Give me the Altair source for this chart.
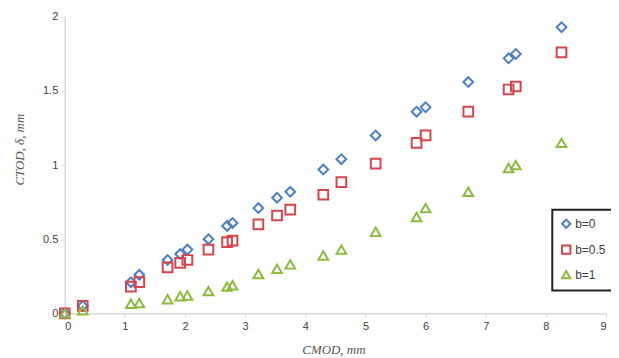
import altair as alt
import pandas as pd

cmod = [0.0, 0.3, 1.1, 1.24, 1.71, 1.92, 2.04, 2.39, 2.7, 2.79, 3.22, 3.53, 3.75,
        4.3, 4.6, 5.17, 5.85, 6.0, 6.71, 7.38, 7.5, 8.26]
ctod_b0 = [0.0, 0.05, 0.21, 0.26, 0.36, 0.40, 0.43, 0.50, 0.59, 0.61, 0.71, 0.78, 0.82,
           0.97, 1.04, 1.20, 1.36, 1.39, 1.56, 1.72, 1.75, 1.93]
ctod_b05 = [0.0, 0.05, 0.18, 0.21, 0.31, 0.34, 0.36, 0.43, 0.48, 0.49, 0.60, 0.66, 0.70,
            0.80, 0.885, 1.01, 1.15, 1.20, 1.36, 1.51, 1.53, 1.76]
ctod_b1 = [0.0, 0.02, 0.065, 0.07, 0.095, 0.115, 0.12, 0.15, 0.18, 0.19, 0.265, 0.30, 0.33,
           0.39, 0.43, 0.55, 0.65, 0.71, 0.82, 0.98, 1.0, 1.15]
series = ["b=0", "b=0.5", "b=1"]
colors = ["#4A7EC6", "#D6454B", "#8DBB3F"]
shapes = ["diamond", "square", "triangle-up"]

rows = []
for name, vals in zip(series, [ctod_b0, ctod_b05, ctod_b1]):
    for x, y in zip(cmod, vals):
        rows.append({"CMOD": x, "CTOD": y, "series": name})
df = pd.DataFrame(rows)

leg = alt.Legend(title=None, orient="none", legendX=490, legendY=194)

chart = alt.Chart(df).mark_point(filled=False, strokeWidth=2, size=95, opacity=1).encode(
    x=alt.X("CMOD:Q", scale=alt.Scale(domain=[0, 9], nice=False),
            axis=alt.Axis(title="CMOD, mm", values=list(range(10)), format="d",
                          titleX=270, titleY=36, titleBaseline="middle")),
    y=alt.Y("CTOD:Q", scale=alt.Scale(domain=[0, 2], nice=False),
            axis=alt.Axis(title="CTOD, δ, mm", values=[0, 0.5, 1, 1.5, 2], format="~g",
                          titleX=-45, titleY=133, titleAngle=-90, titleBaseline="middle",
                          titleAlign="center")),
    color=alt.Color("series:N", scale=alt.Scale(domain=series, range=colors), legend=leg),
    shape=alt.Shape("series:N", scale=alt.Scale(domain=series, range=shapes), legend=leg),
).properties(
    width=544, height=298,
    autosize=alt.AutoSizeParams(type="none"),
    padding={"left": 57, "top": 8, "right": 5, "bottom": 44},
).configure_view(stroke=None).configure_axis(
    grid=False, domainColor="#D9D9D9", domainWidth=1.5, tickColor="#D9D9D9", tickSize=4,
    labelFont="Liberation Sans", labelFontSize=11, labelColor="#404040", labelPadding=3,
    titleFont="Liberation Serif", titleFontStyle="italic", titleFontWeight="normal",
    titleFontSize=13, titleColor="#555555",
).configure_legend(
    strokeColor="#222222", strokeWidth=2, fillColor="white", padding=8, rowPadding=8,
    labelFont="Liberation Sans", labelFontSize=12, labelColor="#404040", labelOffset=3,
    symbolSize=70, symbolStrokeWidth=2, cornerRadius=0,
)

chart.save("out.html", embed_options={"renderer": "svg", "actions": False})
